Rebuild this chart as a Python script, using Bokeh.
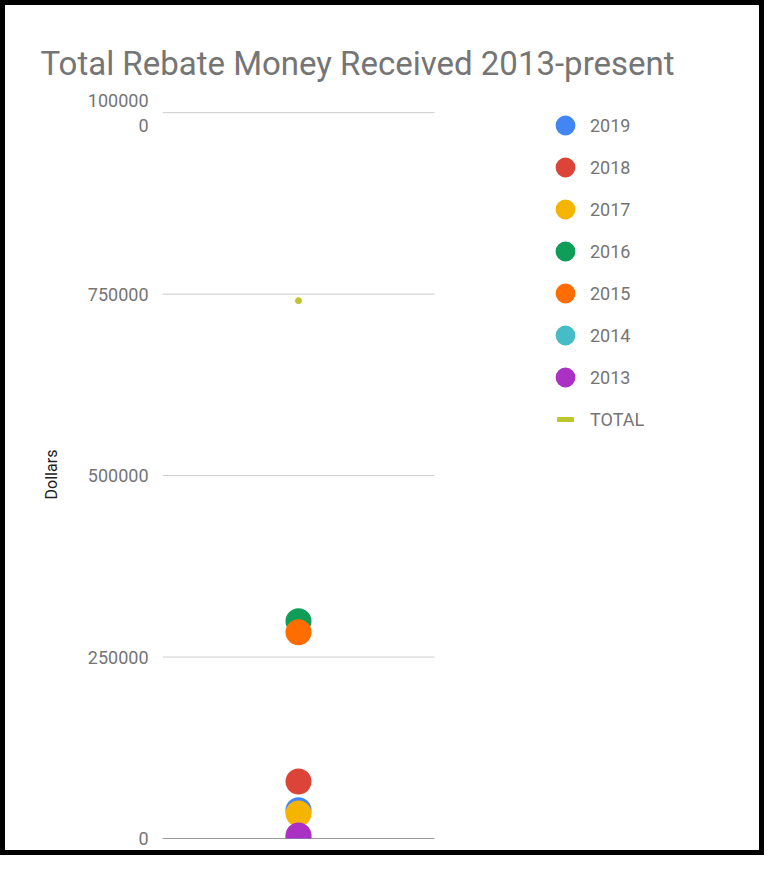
from bokeh.plotting import figure
from bokeh.models import Range1d, Legend, LegendItem, FixedTicker
from bokeh.embed import file_html
from bokeh.resources import INLINE

# ---- data ----
years = ["2019", "2018", "2017", "2016", "2015", "2014", "2013"]
amounts = [39000, 78500, 34400, 299300, 284100, 1600, 4100]
year_colors = ["#4285F4", "#DB4437", "#F4B400", "#0F9D58", "#FF6D01", "#46BDC6", "#AB30C4"]
total_label = "TOTAL"
total_amount = [741000]
total_color = "#BDC62B"
y_ticks = [0, 250000, 500000, 750000, 1000000]
y_tick_labels = ["0", "250000", "500000", "750000", "100000\n0"]
title_text = "Total Rebate Money Received 2013-present"
y_label = "Dollars"

FONT = "Roboto"
GRAY = "#757575"

# the frame reaches to the right edge so that the legend can live inside it;
# the visible plotting band is x in [-1, 1]
p = figure(frame_width=597, frame_height=728, output_backend="svg", toolbar_location=None,
           x_range=Range1d(-1, 3.39), y_range=Range1d(0, 1003000),
           min_border_left=157, min_border_right=0, min_border_top=105,
           min_border_bottom=12)
p.styles = {"border": "5px solid black", "box-sizing": "content-box"}
p.outline_line_color = None
p.background_fill_color = "white"
p.border_fill_color = "white"

p.title.text = title_text
p.title.text_font = FONT
p.title.text_font_size = "33px"
p.title.text_font_style = "normal"
p.title.text_color = GRAY
p.title.align = "left"
p.title.offset = -122
p.title.standoff = 56

p.xaxis.visible = False
p.xgrid.visible = False
p.ygrid.visible = False

ax = p.yaxis[0]
ax.ticker = FixedTicker(ticks=y_ticks)
ax.major_label_overrides = {t: l for t, l in zip(y_ticks, y_tick_labels)}
ax.axis_line_color = None
ax.major_tick_line_color = None
ax.minor_tick_line_color = None
ax.major_label_standoff = 8
ax.major_label_text_font = FONT
ax.major_label_text_font_size = "18px"
ax.major_label_text_color = GRAY
ax.axis_label = y_label
ax.axis_label_text_font = FONT
ax.axis_label_text_font_size = "16px"
ax.axis_label_text_font_style = "normal"
ax.axis_label_text_color = "#222222"
ax.axis_label_standoff = 24

# horizontal grid lines across the plotting band (baseline darker)
grid_colors = ["#333333" if t == 0 else "#cccccc" for t in y_ticks]
p.segment(x0=[-1] * len(y_ticks), x1=[1] * len(y_ticks), y0=y_ticks, y1=y_ticks,
          line_color=grid_colors, line_width=1)

items = []
for yr, amt, col in zip(years, amounts, year_colors):
    r = p.circle(x=[0], y=[amt], radius=11.5, radius_units="screen",
                 fill_color=col, line_color=col, line_width=3)
    items.append(LegendItem(label=yr, renderers=[r]))

p.scatter(x=[0] * len(total_amount), y=total_amount, size=6,
          fill_color=total_color, line_color=total_color)
tl = p.scatter(x=[0] * len(total_amount), y=total_amount, marker="dash", size=0,
               line_color=total_color, line_width=5, line_cap="butt")
items.append(LegendItem(label=total_label, renderers=[tl]))

legend = Legend(items=items, location=(382, 398), padding=0, margin=0,
                glyph_width=42, glyph_height=42, label_height=42, spacing=0,
                label_standoff=4, label_text_font=FONT, label_text_font_size="18px",
                label_text_color=GRAY, background_fill_alpha=0, border_line_color=None)
p.add_layout(legend, "center")

open("out.html", "w").write(file_html(p, INLINE))
